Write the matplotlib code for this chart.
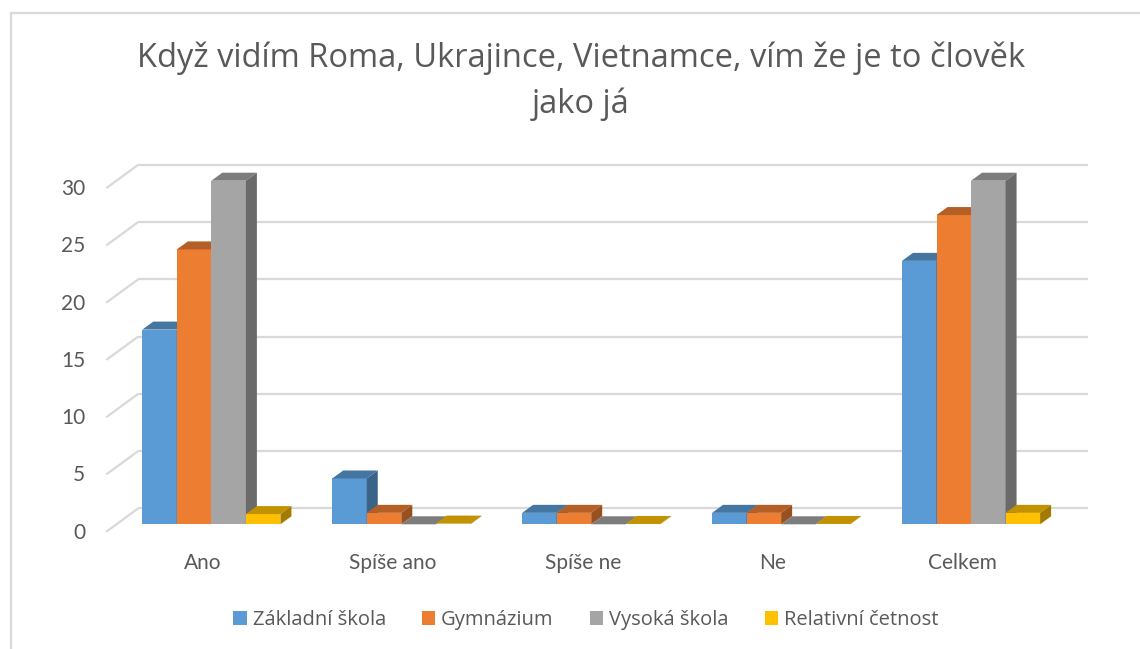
import matplotlib
matplotlib.use("Agg")
import matplotlib.pyplot as plt
from matplotlib.patches import Polygon, Rectangle, Patch
from matplotlib.lines import Line2D
import numpy as np

plt.rcParams['font.family'] = ['Lato', 'DejaVu Sans']

# ---- data ----
categories = ["Ano", "Spíše ano", "Spíše ne", "Ne", "Celkem"]
series_names = ["Základní škola", "Gymnázium", "Vysoká škola", "Relativní četnost"]
zakladni = [17, 4, 1, 1, 23]
gymnazium = [24, 1, 1, 1, 27]
vysoka = [30, 0, 0, 0, 30]
relativni = [0.89, 0.06, 0.03, 0.03, 1.0]
yticks = [0, 5, 10, 15, 20, 25, 30]
title = "Když vidím Roma, Ukrajince, Vietnamce, vím že je to člověk\njako já"

series = [zakladni, gymnazium, vysoka, relativni]
front_cols = ["#5B9BD5", "#ED7D31", "#A5A5A5", "#FFC000"]

def shade(c, f):
    r, g, b = matplotlib.colors.to_rgb(c)
    return (r * f, g * f, b * f)

W, H = 1140, 649
fig = plt.figure(figsize=(W / 100, H / 100), dpi=100)
fig.patch.set_facecolor("white")

# axes = front plane of the bars
left_px, right_px = 116.4, 1066.0
base_px, top_px = 524.3, 180.7
ax = fig.add_axes([left_px / W, (H - base_px) / H, (right_px - left_px) / W, (base_px - top_px) / H])
ax.set_xlim(-0.5, len(categories) - 0.5)
ax.set_ylim(0, 30)
ax.axis("off")

# pixel -> data unit conversion
px_x = (right_px - left_px) / (len(categories))   # px per category unit
px_y = (base_px - top_px) / 30.0                  # px per value unit
def dx(p):
    return p / px_x
def dy(p):
    return p / px_y

grid_c = "#d9d9d9"
wall_dx, wall_dy = dx(21.9), dy(16)
floor_dx, floor_dy = dx(-10.1), dy(-7.4)
x0, x1 = -0.5, len(categories) - 0.5

# gridlines on back wall + diagonal side lines
for v in yticks:
    ax.plot([x0 + wall_dx, x1 + wall_dx], [v + wall_dy, v + wall_dy], color=grid_c, lw=1.6,
            clip_on=False, zorder=1, solid_capstyle="butt")
    ax.plot([x0 + floor_dx, x0 + wall_dx], [v + floor_dy, v + wall_dy], color=grid_c, lw=1.6,
            clip_on=False, zorder=1, solid_capstyle="butt")
    ax.text(x0 + floor_dx - dx(21), v + floor_dy - dy(1), str(v), ha="right", va="center",
            fontsize=15, color="#595959")

# bars with 3D faces
w = 1 / 5.5
bdx, bdy = dx(11), dy(8)
z = 2
for ci in range(len(categories)):
    for si, vals in enumerate(series):
        v = vals[ci]
        xl = ci - 2 * w + si * w
        col = front_cols[si]
        ax.add_patch(Rectangle((xl, 0), w, v, facecolor=col, edgecolor="none", zorder=z, clip_on=False))
        ax.add_patch(Polygon([(xl, v), (xl + w, v), (xl + w + bdx, v + bdy), (xl + bdx, v + bdy)],
                             closed=True, facecolor=shade(col, 0.76), edgecolor="none", zorder=z, clip_on=False))
        ax.add_patch(Polygon([(xl + w, 0), (xl + w + bdx, bdy), (xl + w + bdx, v + bdy), (xl + w, v)],
                             closed=True, facecolor=shade(col, 0.64), edgecolor="none", zorder=z, clip_on=False))
        z += 1

# category labels
for ci, cat in enumerate(categories):
    ax.text(ci - dx(8.2), -dy(38.7), cat, ha="center", va="center", fontsize=15, color="#595959")

# title
fig.text(581 / W, 1 - 81.5 / H, title, ha="center", va="center", fontsize=23.5,
         color="#595959", linespacing=1.48, family=["Open Sans", "DejaVu Sans"])

# legend
handles = [Patch(facecolor=c, edgecolor="none") for c in front_cols]
leg = fig.legend(handles, series_names, loc="center", bbox_to_anchor=(586 / W, 1 - 620 / H),
                 ncol=4, frameon=False, handlelength=0.65, handleheight=0.65,
                 handletextpad=0.3, columnspacing=1.8, labelcolor="#595959",
                 prop={"family": ["Open Sans", "DejaVu Sans"], "size": 14.5})

# chart border (top and left edges visible)
fig.add_artist(Line2D([11 / W, 11 / W], [0, 1 - 13 / H], color=grid_c, lw=1.6))
fig.add_artist(Line2D([11 / W, 1], [1 - 13 / H, 1 - 13 / H], color=grid_c, lw=1.6))

fig.savefig("out.png", dpi=100)
